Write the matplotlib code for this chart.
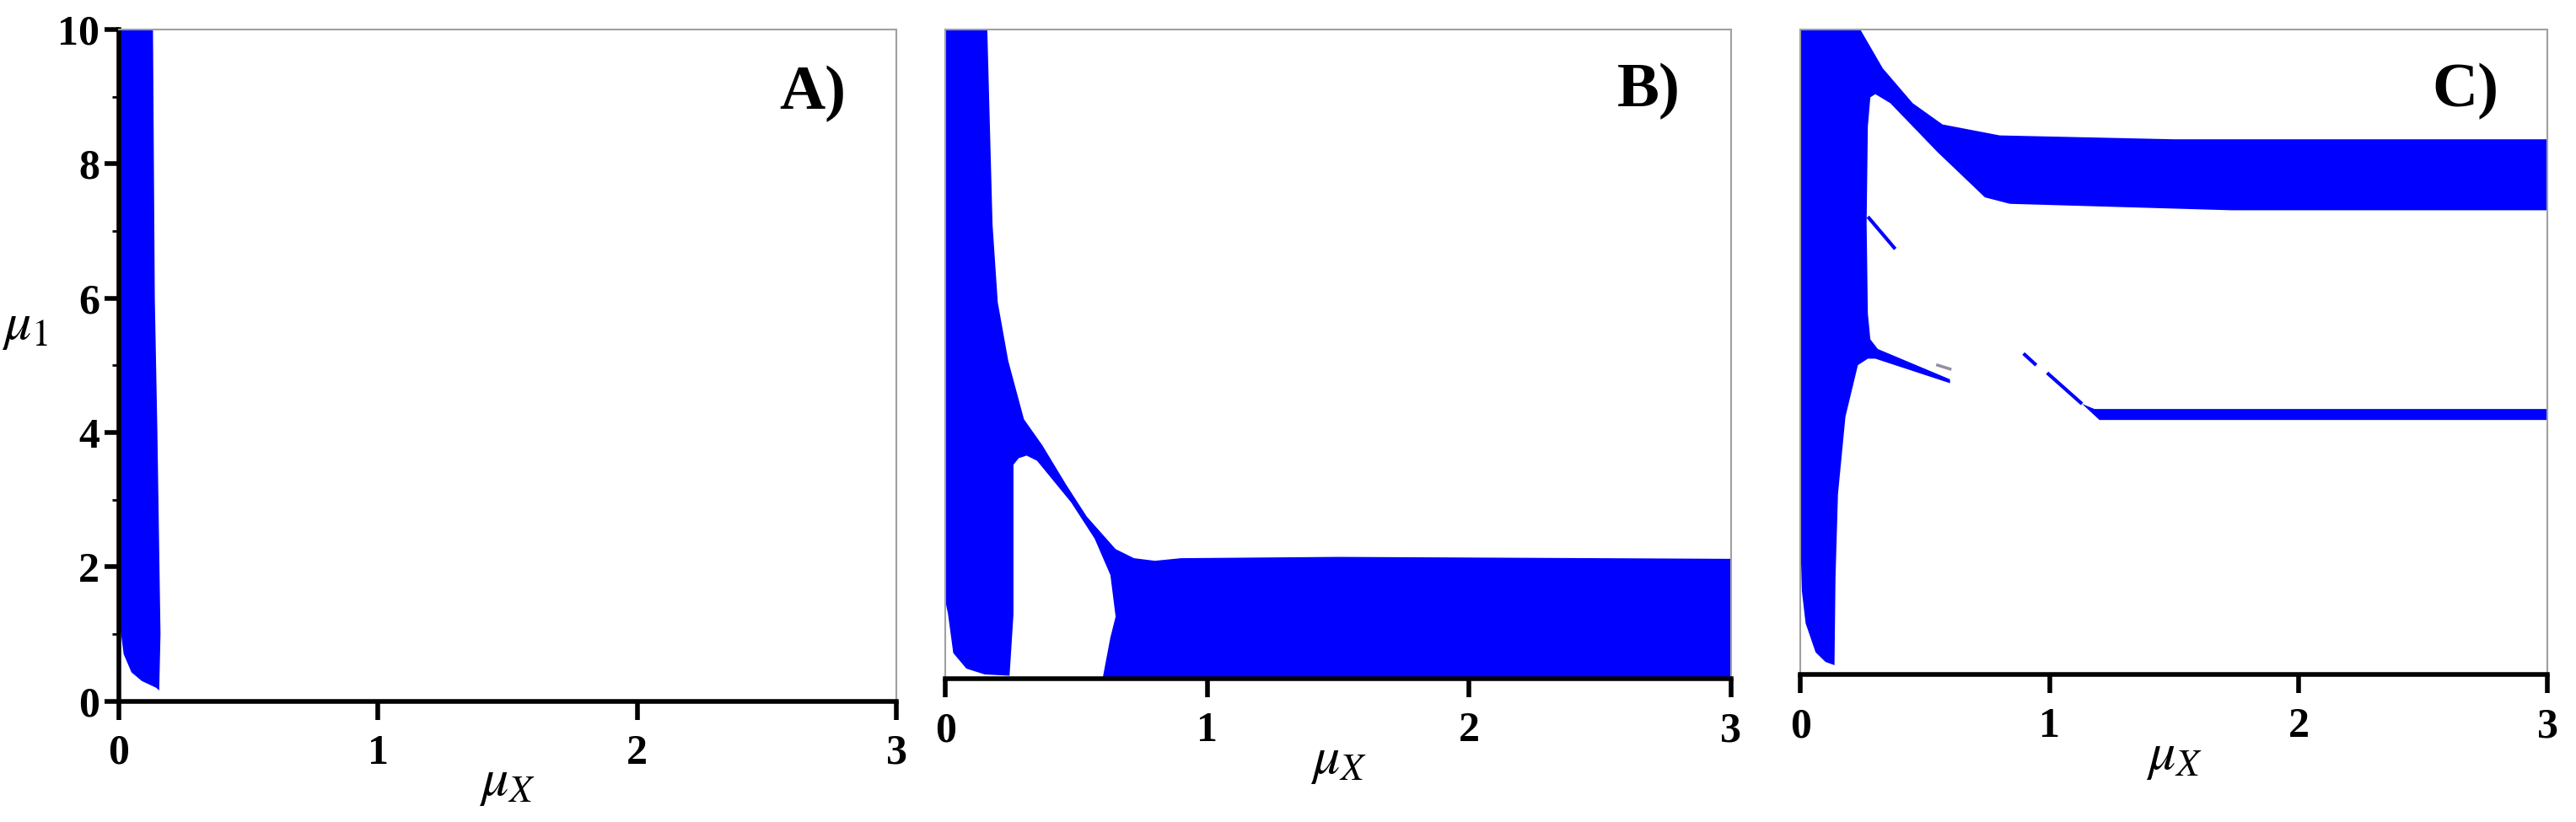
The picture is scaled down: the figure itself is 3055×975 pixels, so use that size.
import matplotlib
matplotlib.use("Agg")
import matplotlib.pyplot as plt
from matplotlib.ticker import MultipleLocator

plt.rcParams['mathtext.fontset'] = 'stix'
plt.rcParams['font.family'] = ['Liberation Serif', 'DejaVu Serif']

BLUE = '#0000ff'

# Panel A region boundary (mu_X, mu_1)
a_x = [0.0, 0.133, 0.14, 0.15, 0.162, 0.157, 0.145, 0.09, 0.05, 0.02, 0.01, 0.0]
a_y = [10.0, 10.0, 6.0, 4.0, 1.0, 0.16, 0.2, 0.3, 0.43, 0.7, 1.0, 1.2]

# Panel B region boundary
b_x = [0.0, 0.16, 0.17, 0.18, 0.2, 0.24, 0.30, 0.37, 0.46, 0.54, 0.65, 0.72, 0.8, 0.9, 1.5, 3.0,
       3.0, 0.6, 0.63, 0.65, 0.63, 0.57, 0.48, 0.35, 0.31, 0.28, 0.26, 0.26, 0.245, 0.15,
       0.08, 0.03, 0.01, 0.0]
b_y = [10.0, 10.0, 8.5, 7.0, 5.8, 4.9, 4.0, 3.6, 3.0, 2.5, 2.0, 1.86, 1.82, 1.86, 1.88, 1.85,
       0.0, 0.0, 0.64, 0.96, 1.6, 2.16, 2.72, 3.36, 3.44, 3.4, 3.3, 1.0, 0.05, 0.07,
       0.16, 0.4, 1.0, 1.2]

# Panel C main region boundary
c_x = [0.0, 0.24, 0.33, 0.45, 0.57, 0.8, 1.5, 3.0, 3.0, 1.73, 0.84, 0.74, 0.55, 0.36, 0.3,
       0.28, 0.27, 0.265, 0.27, 0.28, 0.31, 0.6, 0.6, 0.3, 0.27, 0.23, 0.18, 0.15, 0.14,
       0.136, 0.1, 0.06, 0.02, 0.005, 0.0]
c_y = [10.0, 10.0, 9.4, 8.86, 8.53, 8.36, 8.3, 8.3, 7.2, 7.2, 7.3, 7.4, 8.1, 8.86, 9.0,
       8.95, 8.5, 7.0, 5.6, 5.2, 5.05, 4.58, 4.52, 4.9, 4.9, 4.8, 4.0, 2.8, 1.5,
       0.15, 0.2, 0.35, 0.8, 1.3, 2.0]
# Panel C lower band
c2_x = [1.13, 1.18, 3.0, 3.0, 1.2]
c2_y = [4.2, 4.12, 4.12, 3.95, 3.95]
# Panel C thin segments
c_seg_x = [[0.27, 0.38], [0.895, 0.946], [0.99, 1.13]]
c_seg_y = [[7.1, 6.6], [4.98, 4.8], [4.68, 4.2]]
c_gray_x = [0.55, 0.6]
c_gray_y = [4.8, 4.74]

x_ticks = [0, 1, 2, 3]
y_ticks = [0, 2, 4, 6, 8, 10]

fig = plt.figure(figsize=(30.55, 9.75), dpi=100)
axA = fig.add_axes([0.046, 0.147, 0.302, 0.817])
axB = fig.add_axes([0.367, 0.174, 0.305, 0.790])
axC = fig.add_axes([0.699, 0.179, 0.290, 0.785])

axA.fill(a_x, a_y, color=BLUE, lw=0)
axB.fill(b_x, b_y, color=BLUE, lw=0)
axC.fill(c_x, c_y, color=BLUE, lw=0)
axC.fill(c2_x, c2_y, color=BLUE, lw=0)
for sx, sy in zip(c_seg_x, c_seg_y):
    axC.plot(sx, sy, color=BLUE, lw=3, solid_capstyle='butt')
axC.plot(c_gray_x, c_gray_y, color='#9090a0', lw=2.5)

for ax, lab in zip([axA, axB, axC], ['A)', 'B)', 'C)']):
    ax.set_xlim(0, 3)
    ax.set_ylim(0, 10)
    ax.set_xticks(x_ticks)
    ax.set_xticklabels([str(t) for t in x_ticks], fontsize=36, fontweight='bold')
    ax.tick_params(axis='x', direction='out', length=16, width=4, pad=12)
    for s in ['top', 'right']:
        ax.spines[s].set_color('#a0a0a0')
        ax.spines[s].set_linewidth(1.5)
    ax.spines['bottom'].set_color('black')
    ax.spines['bottom'].set_linewidth(4)
    ax.text(0.935, 0.905, lab, transform=ax.transAxes, ha='right', va='center',
            fontsize=54, fontweight='bold')
    ax.set_xlabel(r'$\mu_X$', fontsize=46, labelpad=-12)

axA.set_yticks(y_ticks)
axA.set_yticklabels([str(t) for t in y_ticks], fontsize=36, fontweight='bold')
axA.yaxis.set_minor_locator(MultipleLocator(1))
axA.tick_params(axis='y', direction='out', length=12, width=4, pad=4)
axA.tick_params(axis='y', which='minor', direction='out', length=6, width=2)
axA.spines['left'].set_color('black')
axA.spines['left'].set_linewidth(4)
axA.set_ylabel(r'$\mu_1$', fontsize=46, rotation=0)
axA.yaxis.set_label_coords(-0.12, 0.52)

for ax in [axB, axC]:
    ax.set_yticks([])
    ax.spines['left'].set_color('#a0a0a0')
    ax.spines['left'].set_linewidth(1.5)

fig.savefig('out.png', dpi=100)
